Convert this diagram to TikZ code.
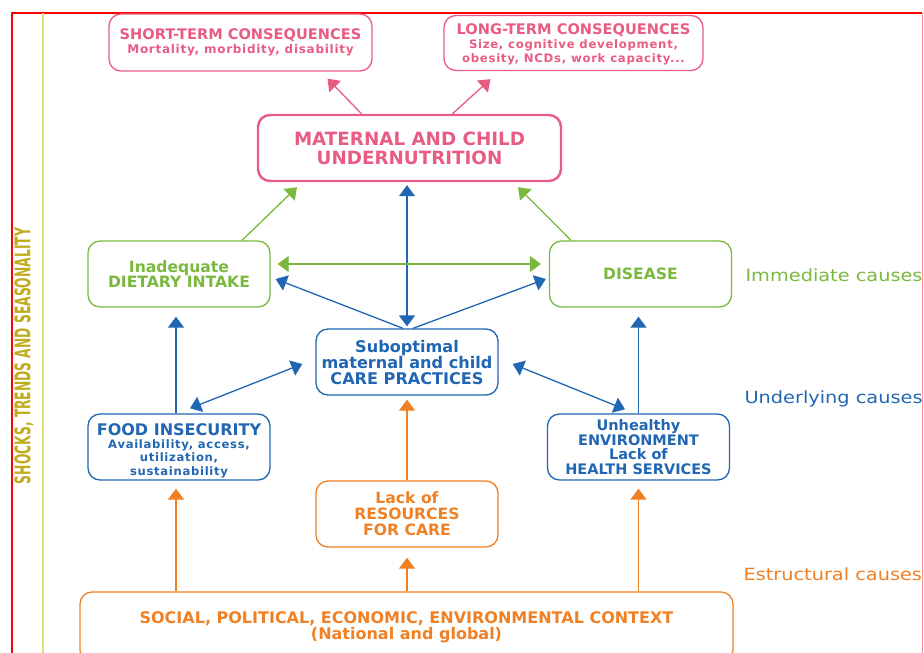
\documentclass[tikz,border=0pt]{standalone}
\usepackage{fontspec}
\setmainfont{DejaVu Sans}
\newfontfamily\condfont{DejaVu Sans}[FakeStretch=0.8]
\newfontfamily\widefont{DejaVu Sans}[FakeStretch=1.15]
\newfontfamily\spacedfont{DejaVu Sans}[LetterSpace=6]
\usetikzlibrary{arrows.meta}

\definecolor{pinkc}{RGB}{232,92,132}
\definecolor{greenc}{RGB}{122,184,62}
\definecolor{bluec}{RGB}{32,102,178}
\definecolor{orangec}{RGB}{240,128,36}
\definecolor{olivec}{RGB}{190,172,30}
\definecolor{yellowc}{RGB}{222,222,110}

\tikzset{
  box/.style={draw, rounded corners=12pt, align=center, line width=1.3pt, inner sep=2pt},
  conbox/.style={box, draw=pinkc, text=pinkc, font=\bfseries\fontsize{14.6}{14}\selectfont},
  nutbox/.style={box, draw=pinkc, text=pinkc, line width=2.4pt, font=\bfseries\fontsize{18.3}{19}\selectfont},
  immbox/.style={box, draw=greenc, text=greenc, minimum width=182pt, minimum height=66pt, font=\bfseries\fontsize{15.6}{15}\selectfont},
  undbox/.style={box, draw=bluec, text=bluec, minimum width=182pt, minimum height=66pt},
  strbox/.style={box, draw=orangec, text=orangec, font=\bfseries\fontsize{15.6}{16}\selectfont},
  causelbl/.style={anchor=west, font=\widefont\fontsize{16.8}{18}\selectfont},
  arr/.style={line width=1.3pt, -{Triangle[length=11pt,width=16pt]}},
  dblarr/.style={line width=1.3pt, {Triangle[length=11pt,width=16pt]}-{Triangle[length=11pt,width=16pt]}}
}

\begin{document}
\begin{tikzpicture}[x=1pt, y=-1pt]
    \useasboundingbox (0,0) rectangle (924,653);

    % Frame and side band
    \draw[red, line width=1.4pt] (12,670) -- (12,13) -- (922,13);
    \draw[red!45, line width=1pt] (922,13) -- (922,670);
    \draw[yellowc, line width=1.6pt] (43,13) -- (43,670);
    \node[rotate=90, text=olivec] (shocks) at (24,356) {\resizebox{256pt}{16pt}{\condfont\bfseries SHOCKS, TRENDS AND SEASONALITY}};

    % Consequences
    \node[conbox, minimum width=263pt, minimum height=57pt] (short) at (240.5,42.5) {SHORT-TERM CONSEQUENCES\\{\spacedfont\fontsize{12}{15}\selectfont Mortality, morbidity, disability}};
    \node[conbox, minimum width=259pt, minimum height=55pt] (long) at (573.5,43) {\rule{0pt}{13pt}LONG-TERM CONSEQUENCES\\{\spacedfont\fontsize{11.7}{14}\selectfont Size, cognitive development,}\\{\spacedfont\fontsize{11.7}{14}\selectfont obesity, NCDs, work capacity...}};

    % Outcome
    \node[nutbox, minimum width=303pt, minimum height=66pt] (mcu) at (409.5,148) {MATERNAL AND CHILD\\UNDERNUTRITION};

    % Immediate causes
    \node[immbox] (diet) at (179,274) {Inadequate\\DIETARY INTAKE};
    \node[immbox] (disease) at (640.5,274) {DISEASE};

    % Underlying causes
    \node[undbox, font=\bfseries\fontsize{16.1}{16}\selectfont] (care) at (407,362) {Suboptimal\\maternal and child\\CARE PRACTICES};
    \node[undbox, font=\bfseries\spacedfont\fontsize{11.6}{13.3}\selectfont] (food) at (179,447) {{\normalfont\bfseries\fontsize{16}{15}\selectfont\rule{0pt}{19pt}FOOD INSECURITY}\\Availability, access,\\utilization,\\sustainability};
    \node[undbox, font=\bfseries\fontsize{14.5}{14.7}\selectfont] (env) at (638.5,447) {Unhealthy\\ENVIRONMENT\\Lack of\\HEALTH SERVICES};

    % Structural causes
    \node[strbox, minimum width=182pt, minimum height=66pt] (res) at (407,514) {Lack of\\RESOURCES\\FOR CARE};
    \node[strbox, minimum width=653pt, minimum height=70pt, font=\bfseries\fontsize{16}{16}\selectfont] (ctx) at (406.5,627) {SOCIAL, POLITICAL, ECONOMIC, ENVIRONMENTAL CONTEXT\\(National and global)};

    % Level labels
    \node[causelbl, text=greenc] (immlbl) at (742,275) {Immediate causes};
    \node[causelbl, text=bluec] (undlbl) at (741,399) {Underlying causes};
    \node[causelbl, text=orangec] (strlbl) at (740,574) {Estructural causes};

    % Connections
    \draw[arr, pinkc] ([xshift=-48pt]mcu.north) -- ([xshift=87pt,yshift=-7pt]short.south);
    \draw[arr, pinkc] ([xshift=43pt]mcu.north) -- ([xshift=-83pt,yshift=-8pt]long.south);
    \draw[arr, greenc] ([xshift=63pt]diet.north) -- ([xshift=-112.5pt,yshift=-5pt]mcu.south);
    \draw[arr, greenc] ([xshift=-69.5pt]disease.north) -- ([xshift=108.5pt,yshift=-5pt]mcu.south);
    \draw[dblarr, bluec] ([yshift=-3pt]care.north |- mcu.south) -- ([yshift=2pt]care.north);
    \draw[dblarr, greenc] ([xshift=7pt,yshift=10pt]diet.east) -- ([xshift=-8pt,yshift=10pt]disease.west);
    \draw[arr, bluec] ([xshift=-4pt]care.north) -- ([xshift=5pt,yshift=-5pt]diet.east);
    \draw[arr, bluec] ([xshift=6pt]care.north) -- ([xshift=-3pt,yshift=-5pt]disease.west);
    \draw[arr, bluec] ([xshift=-3pt]food.north) -- ([xshift=-3pt,yshift=-9pt]diet.south);
    \draw[dblarr, bluec] ([xshift=11pt,yshift=5pt]food.north) -- ([xshift=-13pt,yshift=-2pt]care.west);
    \draw[arr, bluec] (env.north) -- ([xshift=-2pt,yshift=-9pt]disease.south);
    \draw[dblarr, bluec] ([xshift=-13.5pt,yshift=4pt]env.north) -- ([xshift=14pt,yshift=-2pt]care.east);
    \draw[arr, orangec] (res.north) -- ([yshift=-4pt]care.south);
    \draw[arr, orangec] ([xshift=-3pt]food.south |- ctx.north) -- ([xshift=-3pt,yshift=-8pt]food.south);
    \draw[arr, orangec] (res.south |- ctx.north) -- ([yshift=-10pt]res.south);
    \draw[arr, orangec] (env.south |- ctx.north) -- ([yshift=-8pt]env.south);
\end{tikzpicture}
\end{document}
